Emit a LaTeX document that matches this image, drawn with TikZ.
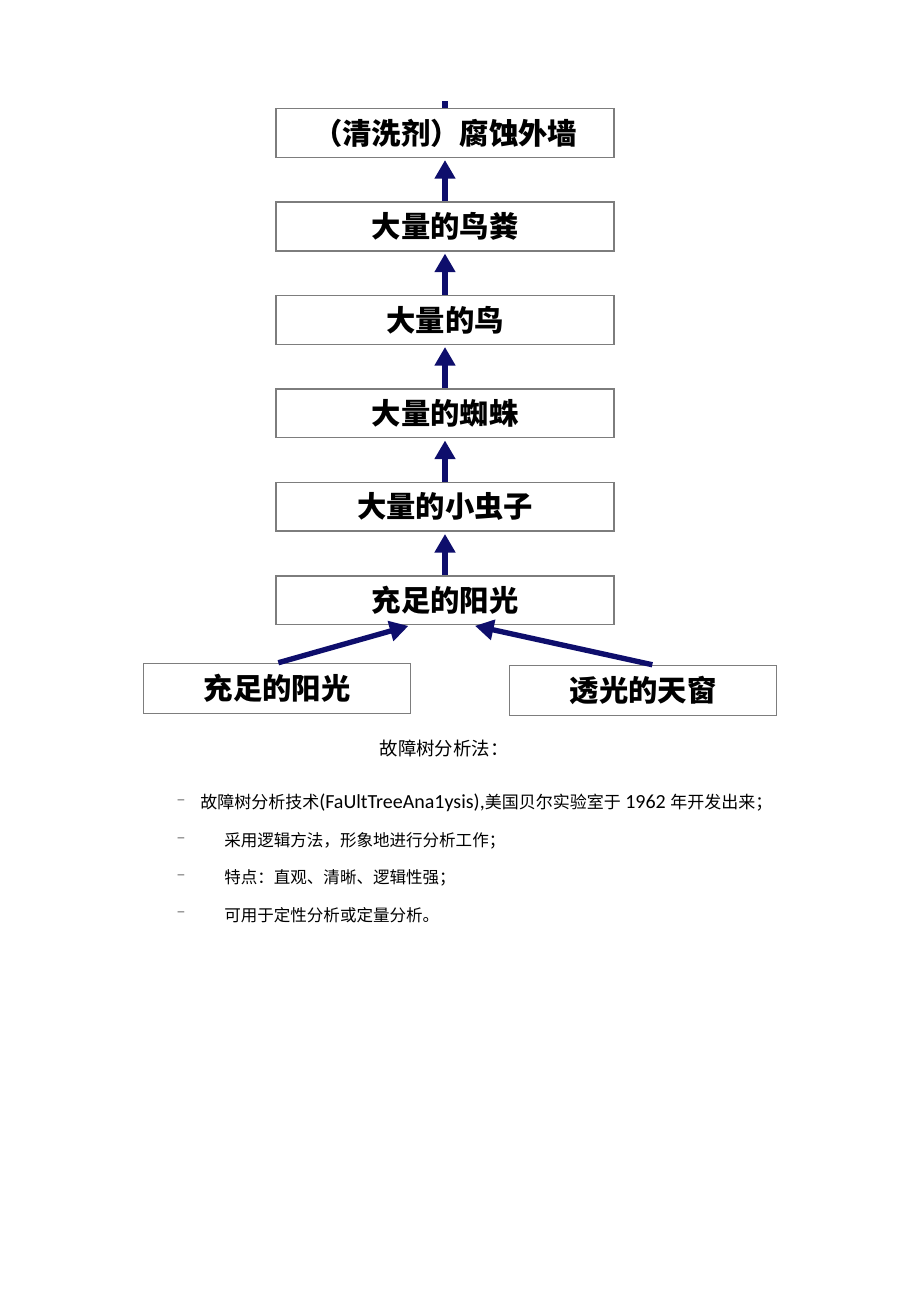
\documentclass[tikz,border=0pt]{standalone}
\usepackage{fontspec}
\setmainfont{Carlito}
\newfontfamily\cjk{Noto Sans CJK SC}
\usetikzlibrary{arrows.meta,positioning}

\definecolor{arrowblue}{RGB}{14,14,108}
\definecolor{boxgray}{RGB}{125,125,125}

\begin{document}
\begin{tikzpicture}[x=0.75pt,y=-0.75pt,node distance=32.5pt,>={Triangle[width=15pt,length=14pt]}]
		\tikzstyle{event}=[rectangle, draw=boxgray, line width=1.1pt, fill=white, minimum width=253.5pt, minimum height=36.5pt, font=\cjk\bfseries\fontsize{22}{24}\selectfont]
		\tikzstyle{leaf}=[event, minimum width=200pt, minimum height=37.5pt]
		\tikzstyle{cause}=[->, draw=arrowblue, line width=4pt, shorten >=1.5pt]
		\tikzstyle{stub}=[draw=arrowblue, line width=4pt]
		\tikzstyle{dashmark}=[text=boxgray, font=\fontsize{14}{16}\selectfont, inner sep=0pt]
		\tikzstyle{bullet}=[anchor=west, inner sep=0pt, font=\cjk\fontsize{12.4}{14}\selectfont]

		\useasboundingbox (0,0) rectangle (920,1301);

		% chain of causes, top to bottom
		\node [event] (wall) at (445,133) {（清洗剂）腐蚀外墙};
		\node [event] (droppings) [below=of wall] {大量的鸟粪}
		edge [cause]          (wall);
		\node [event] (birds) [below=of droppings] {大量的鸟}
		edge [cause]          (droppings);
		\node [event] (spiders) [below=of birds] {大量的蜘蛛}
		edge [cause]          (birds);
		\node [event] (insects) [below=of spiders] {大量的小虫子}
		edge [cause]          (spiders);
		\node [event] (sunlight) [below=of insects] {充足的阳光}
		edge [cause]          (insects);

		% the two leaves
		\node [leaf] (sunleaf) [below=28pt of sunlight, xshift=-126pt] {充足的阳光};
		\node [leaf] (skylight) [below=29.5pt of sunlight, xshift=148.5pt] {透光的天窗};
		\draw [cause] ([xshift=1pt]sunleaf.north) -- ([xshift=-26pt]sunlight.south);
		\draw [cause] ([xshift=7pt]skylight.north) -- ([xshift=21pt]sunlight.south);

		% cut-off connector above the top event
		\coordinate [above=5pt of wall] (cut);
		\draw [stub] (cut) -- (wall);

		% text below the tree
		\node [font=\cjk\fontsize{13.8}{15}\selectfont] (title) at (444,748) {故障树分析法：};
		\node [dashmark] (dash1) at (181,803) {–};
		\node [dashmark] (dash2) at (181,841) {–};
		\node [dashmark] (dash3) at (181,878) {–};
		\node [dashmark] (dash4) at (181,915) {–};
		\node [bullet, font=\cjk\fontsize{12.75}{14}\selectfont] (line1) at (200,803) {故障树分析技术{\fontspec{Carlito}\fontsize{15}{16}\selectfont(FaUltTreeAna1ysis),}美国贝尔实验室于{\fontspec{Carlito}\fontsize{15}{16}\selectfont{} 1962 }年开发出来；};
		\node [bullet] (line2) at (224,841) {采用逻辑方法，形象地进行分析工作；};
		\node [bullet] (line3) at (224,878) {特点：直观、清晰、逻辑性强；};
		\node [bullet] (line4) at (224,915) {可用于定性分析或定量分析。};
	\end{tikzpicture}
\end{document}
